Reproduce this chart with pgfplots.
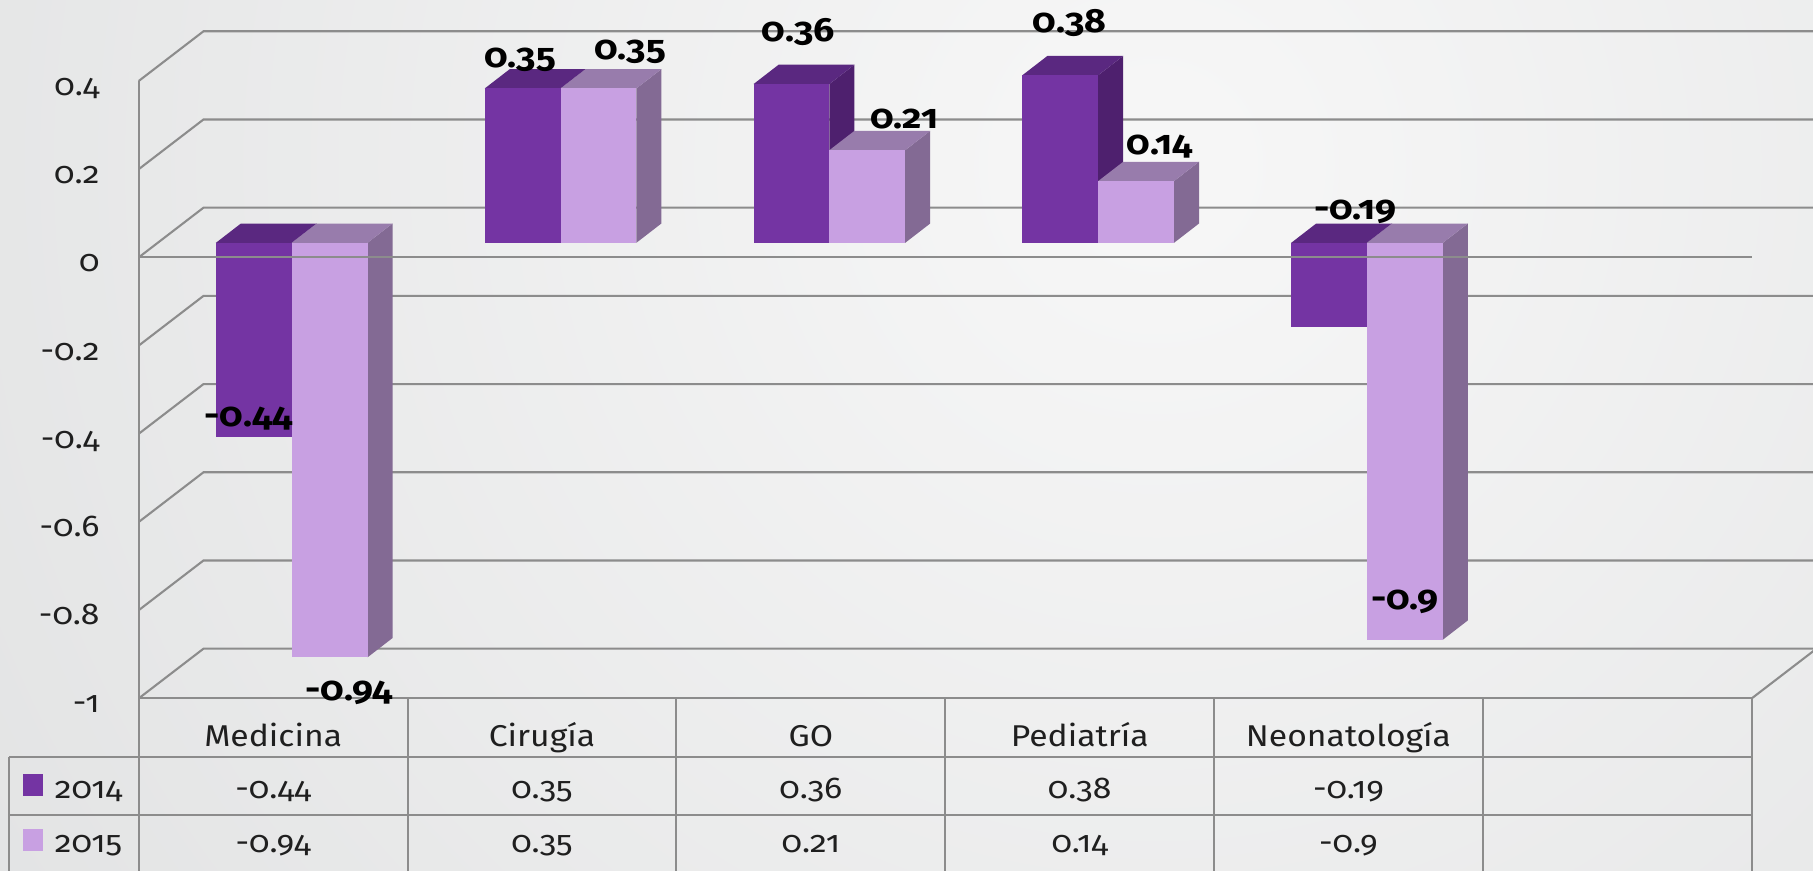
\documentclass[border=0pt]{standalone}
\usepackage{pgfplots}
\pgfplotsset{compat=1.18}
\usepackage{fontspec}
\setmainfont{Fira Sans}[Numbers=OldStyle,FakeStretch=1.12]

\definecolor{c14f}{RGB}{116,52,163}
\definecolor{c14t}{RGB}{90,40,128}
\definecolor{c14s}{RGB}{78,32,110}
\definecolor{c15f}{RGB}{200,160,226}
\definecolor{c15t}{RGB}{152,124,172}
\definecolor{c15s}{RGB}{131,106,148}
\definecolor{gridc}{RGB}{140,140,140}
\definecolor{bgin}{RGB}{247,247,247}
\definecolor{bgout}{RGB}{206,208,209}

% bar geometry, axis units
\def\bw{0.282}\def\zb{0.033}\def\ddx{0.093}\def\ddy{0.0438}

% one 3-d bar: left edge, value, front / top / side colour
\newcommand\cube[5]{%
  \pgfmathsetmacro\xa{#1}%
  \pgfmathsetmacro\xb{#1+\bw}%
  \pgfmathsetmacro\xc{#1+\ddx}%
  \pgfmathsetmacro\xd{#1+\bw+\ddx}%
  \pgfmathsetmacro\yhi{max(\zb,\zb+(#2))}%
  \pgfmathsetmacro\ylo{min(\zb,\zb+(#2))}%
  \pgfmathsetmacro\yhb{\yhi+\ddy}%
  \pgfmathsetmacro\ylb{\ylo+\ddy}%
  \edef\doit{%
    \noexpand\addplot[draw=none,fill=#5,forget plot] coordinates {(\xb,\ylo) (\xb,\yhi) (\xd,\yhb) (\xd,\ylb)};
    \noexpand\addplot[draw=none,fill=#4,forget plot] coordinates {(\xa,\yhi) (\xb,\yhi) (\xd,\yhb) (\xc,\yhb)};
    \noexpand\addplot[draw=none,fill=#3,forget plot] coordinates {(\xa,\ylo) (\xb,\ylo) (\xb,\yhi) (\xa,\yhi)};
  }\doit
}

\newcommand\tabfont{\fontsize{13}{15}\selectfont\color{black!88}}
\newcommand\labfont{\fontsize{14.5}{16}\selectfont\bfseries}

\begin{document}
\begin{tikzpicture}
\path[use as bounding box] (-60pt,-265.2pt) rectangle (724pt,111.3pt);
\begin{scope}
  \clip (-60pt,-265.2pt) rectangle (724pt,111.3pt);
  \shade[inner color=bgin, outer color=bgout] (440pt,40pt) circle (1200pt);
\end{scope}
\begin{axis}[
  at={(0pt,-190.7pt)}, anchor=south west,
  x=116.25pt, y=190.7pt,
  xmin=0, xmax=6, ymin=-1, ymax=0.4,
  enlargelimits=false, clip=false,
  axis line style={draw=none}, major tick length=0pt,
  xtick={0.5,1.5,2.5,3.5,4.5},
  xticklabels={Medicina,Cirugía,GO,Pediatría,Neonatología},
  ytick={-1,-0.8,-0.6,-0.4,-0.2,0,0.2,0.4},
  yticklabels={-1,-0.8,-0.6,-0.4,-0.2,0,0.2,0.4},
  xticklabel style={anchor=base, yshift=-21pt, font=\tabfont},
  yticklabel style={anchor=base east, inner sep=0pt, xshift=-16.75pt, yshift=-6.25pt, font=\tabfont},
  grid style={draw=none},
]
% walls and floor
\draw[gridc, line width=0.9pt] (0,-1) -- (0.2409,-0.8873) -- (6.2409,-0.8873);
\draw[gridc, line width=0.9pt] (0,-0.8) -- (0.2409,-0.6873) -- (6.2409,-0.6873);
\draw[gridc, line width=0.9pt] (0,-0.6) -- (0.2409,-0.4873) -- (6.2409,-0.4873);
\draw[gridc, line width=0.9pt] (0,-0.4) -- (0.2409,-0.2873) -- (6.2409,-0.2873);
\draw[gridc, line width=0.9pt] (0,-0.2) -- (0.2409,-0.0873) -- (6.2409,-0.0873);
\draw[gridc, line width=0.9pt] (0,0) -- (0.2409,0.1127) -- (6.2409,0.1127);
\draw[gridc, line width=0.9pt] (0,0.2) -- (0.2409,0.3127) -- (6.2409,0.3127);
\draw[gridc, line width=0.9pt] (0,0.4) -- (0.2409,0.5127) -- (6.2409,0.5127);
\draw[gridc, line width=0.9pt] (6,-1) -- (6.2409,-0.8873);
\draw[gridc, line width=0.9pt] (0,-1) -- (6,-1);
\draw[gridc, line width=0.9pt] (0,0.4) -- (0,-1.42);

% bars: 2014 then 2015 in each category
\cube{0.287}{-0.44}{c14f}{c14t}{c14s}
\cube{0.569}{-0.94}{c15f}{c15t}{c15s}
\cube{1.287}{0.35}{c14f}{c14t}{c14s}
\cube{1.569}{0.35}{c15f}{c15t}{c15s}
\cube{2.287}{0.36}{c14f}{c14t}{c14s}
\cube{2.569}{0.21}{c15f}{c15t}{c15s}
\cube{3.287}{0.38}{c14f}{c14t}{c14s}
\cube{3.569}{0.14}{c15f}{c15t}{c15s}
\cube{4.287}{-0.19}{c14f}{c14t}{c14s}
\cube{4.569}{-0.9}{c15f}{c15t}{c15s}

% front zero line over the bars
\draw[gridc, line width=0.9pt] (0,0) -- (6,0);

% data labels
\node[font=\labfont] at (0.409,-0.365) {-0.44};
\node[font=\labfont] at (0.783,-0.988) {-0.94};
\node[font=\labfont] at (1.419,0.447) {0.35};
\node[font=\labfont] at (1.828,0.466) {0.35};
\node[font=\labfont] at (2.452,0.510) {0.36};
\node[font=\labfont] at (2.847,0.313) {0.21};
\node[font=\labfont] at (3.462,0.531) {0.38};
\node[font=\labfont] at (3.798,0.251) {0.14};
\node[font=\labfont] at (4.525,0.104) {-0.19};
\node[font=\labfont] at (4.710,-0.780) {-0.9};

% data table
\draw[gridc, line width=0.9pt] (-0.4817,-1.1337) -- (6,-1.1337);
\draw[gridc, line width=0.9pt] (-0.4817,-1.2648) -- (6,-1.2648);
\draw[gridc, line width=0.9pt] (-0.4817,-1.1337) -- (-0.4817,-1.42);
\draw[gridc, line width=0.9pt] (1,-1) -- (1,-1.42);
\draw[gridc, line width=0.9pt] (2,-1) -- (2,-1.42);
\draw[gridc, line width=0.9pt] (3,-1) -- (3,-1.42);
\draw[gridc, line width=0.9pt] (4,-1) -- (4,-1.42);
\draw[gridc, line width=0.9pt] (5,-1) -- (5,-1.42);
\draw[gridc, line width=0.9pt] (6,-1) -- (6,-1.42);

\node[anchor=base west, inner sep=0pt, font=\tabfont] at (-0.434,-1.226)
  {\textcolor{c14f}{\rule[0.7pt]{9pt}{9.5pt}}\hspace{5pt}2014};
\node[anchor=base west, inner sep=0pt, font=\tabfont] at (-0.434,-1.350)
  {\textcolor{c15f}{\rule[0.7pt]{9pt}{9.5pt}}\hspace{5pt}2015};

\node[anchor=base, font=\tabfont] at (0.5,-1.226) {-0.44};
\node[anchor=base, font=\tabfont] at (1.5,-1.226) {0.35};
\node[anchor=base, font=\tabfont] at (2.5,-1.226) {0.36};
\node[anchor=base, font=\tabfont] at (3.5,-1.226) {0.38};
\node[anchor=base, font=\tabfont] at (4.5,-1.226) {-0.19};
\node[anchor=base, font=\tabfont] at (0.5,-1.350) {-0.94};
\node[anchor=base, font=\tabfont] at (1.5,-1.350) {0.35};
\node[anchor=base, font=\tabfont] at (2.5,-1.350) {0.21};
\node[anchor=base, font=\tabfont] at (3.5,-1.350) {0.14};
\node[anchor=base, font=\tabfont] at (4.5,-1.350) {-0.9};
\end{axis}
\end{tikzpicture}
\end{document}
